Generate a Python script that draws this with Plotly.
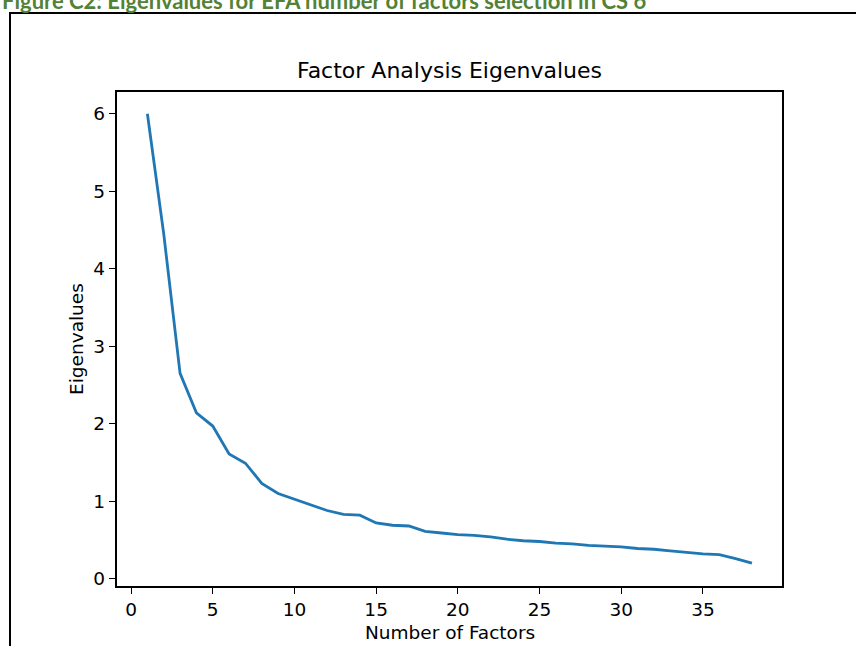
import plotly.graph_objects as go

# Eigenvalues of the factor analysis, one per extracted factor
factors = list(range(1, 39))
eigenvalues = [
    6.00, 4.45, 2.65, 2.14, 1.97, 1.61, 1.49, 1.23, 1.10, 1.03,
    0.95, 0.88, 0.83, 0.82, 0.72, 0.69, 0.68, 0.61, 0.59, 0.57,
    0.56, 0.54, 0.51, 0.49, 0.48, 0.46, 0.45, 0.43, 0.42, 0.41,
    0.39, 0.38, 0.36, 0.34, 0.32, 0.31, 0.26, 0.20,
]
x_ticks = [0, 5, 10, 15, 20, 25, 30, 35]
y_ticks = [0, 1, 2, 3, 4, 5, 6]

caption = "Figure C2: Eigenvalues for EFA number of factors selection in CS 6"
title = "Factor Analysis Eigenvalues"
x_title = "Number of Factors"
y_title = "Eigenvalues"

W, H = 856, 646
L, R, T, B = 117, 74, 92, 60
pw, ph = W - L - R, H - T - B


def px_x(p):
    return (p - L) / pw


def px_y(p):
    return (H - B - p) / ph


font = "DejaVu Sans"

fig = go.Figure()
fig.add_trace(go.Scatter(
    x=factors, y=eigenvalues, mode="lines",
    line=dict(color="#1f77b4", width=2.8),
    hoverinfo="skip", showlegend=False,
))

axis_common = dict(
    showgrid=False, zeroline=False,
    showline=True, linecolor="black", linewidth=1.5, mirror=True,
    ticks="outside", ticklen=6.5, tickwidth=1.3, tickcolor="black",
    tickfont=dict(family=font, size=18.5, color="black"),
)

fig.update_xaxes(range=[-0.86, 39.84], tickvals=x_ticks, **axis_common)
fig.update_yaxes(range=[-0.094, 6.28], tickvals=y_ticks, **axis_common)

annotations = [
    dict(text=title, x=0.5, y=px_y(85), xref="paper", yref="paper",
         xanchor="center", yanchor="bottom", showarrow=False,
         font=dict(family=font, size=22, color="black")),
    dict(text=x_title, x=0.5, y=px_y(632), xref="paper", yref="paper",
         xanchor="center", yanchor="middle", showarrow=False,
         font=dict(family=font, size=18.5, color="black")),
    dict(text=y_title, x=px_x(76), y=0.5, xref="paper", yref="paper",
         xanchor="center", yanchor="middle", textangle=-90, showarrow=False,
         font=dict(family=font, size=18.5, color="black")),
    dict(text="<b>" + caption + "</b>", x=px_x(0), y=px_y(0),
         xref="paper", yref="paper", xanchor="left", yanchor="middle",
         showarrow=False,
         font=dict(family="Lato", size=22, color="#538135")),
]

# frame around the figure, running off the right and bottom edges
shapes = [dict(
    type="rect", xref="paper", yref="paper",
    x0=px_x(10), x1=px_x(W + 20), y0=px_y(H + 20), y1=px_y(13),
    line=dict(color="black", width=2), fillcolor="rgba(0,0,0,0)",
)]

fig.update_layout(
    width=W, height=H,
    margin=dict(l=L, r=R, t=T, b=B, pad=0),
    paper_bgcolor="white", plot_bgcolor="white",
    annotations=annotations, shapes=shapes,
)

fig.write_html("out.html", config={"displayModeBar": False})
